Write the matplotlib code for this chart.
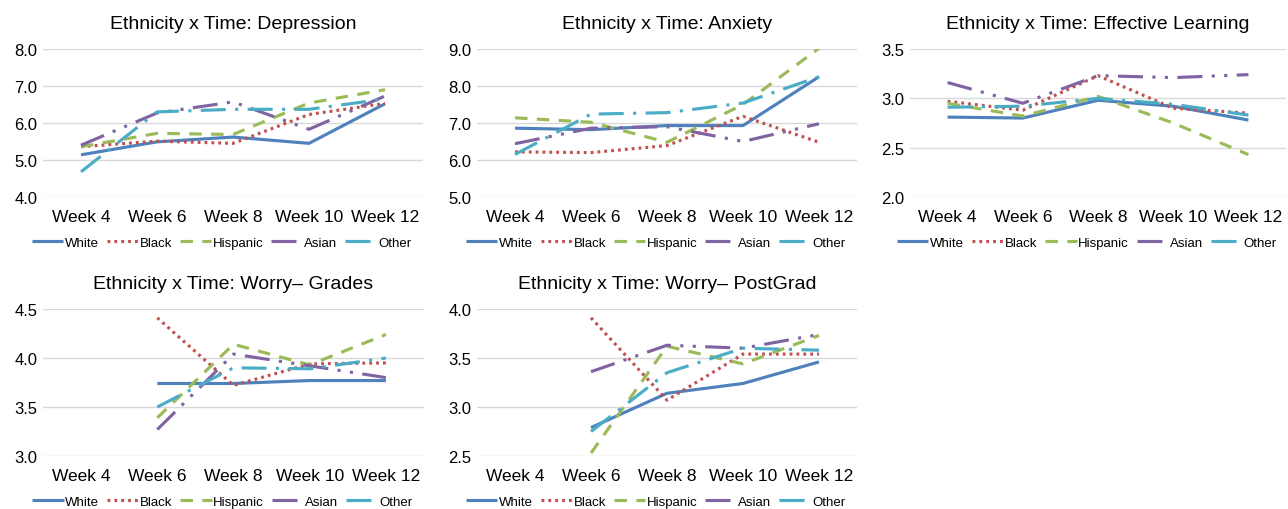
import matplotlib
matplotlib.use("Agg")
import matplotlib.pyplot as plt
import numpy as np

nan = np.nan

WEEKS = ["Week 4", "Week 6", "Week 8", "Week 10", "Week 12"]
GROUPS = ["White", "Black", "Hispanic", "Asian", "Other"]

# Depression
dep_white = [5.14, 5.49, 5.62, 5.45, 6.52]
dep_black = [5.36, 5.51, 5.45, 6.23, 6.53]
dep_hisp = [5.36, 5.72, 5.69, 6.54, 6.90]
dep_asian = [5.40, 6.27, 6.57, 5.83, 6.73]
dep_other = [4.68, 6.30, 6.37, 6.37, 6.65]

# Anxiety
anx_white = [6.86, 6.82, 6.93, 6.93, 8.25]
anx_black = [6.22, 6.20, 6.39, 7.18, 6.48]
anx_hisp = [7.14, 7.02, 6.48, 7.50, 9.02]
anx_asian = [6.44, 6.86, 6.90, 6.50, 6.98]
anx_other = [6.15, 7.24, 7.28, 7.54, 8.25]

# Effective Learning
eff_white = [2.81, 2.80, 2.98, 2.92, 2.78]
eff_black = [2.97, 2.88, 3.23, 2.90, 2.85]
eff_hisp = [2.95, 2.82, 3.02, 2.75, 2.43]
eff_asian = [3.16, 2.95, 3.23, 3.21, 3.24]
eff_other = [2.91, 2.92, 3.00, 2.94, 2.83]

# Worry - Grades (no Week 4 data)
wg_white = [nan, 3.74, 3.74, 3.77, 3.77]
wg_black = [nan, 4.41, 3.72, 3.94, 3.95]
wg_hisp = [nan, 3.39, 4.14, 3.93, 4.24]
wg_asian = [nan, 3.27, 4.04, 3.92, 3.80]
wg_other = [nan, 3.50, 3.90, 3.89, 4.00]

# Worry - PostGrad (no Week 4 data)
wp_white = [nan, 2.79, 3.14, 3.24, 3.46]
wp_black = [nan, 3.91, 3.07, 3.54, 3.54]
wp_hisp = [nan, 2.53, 3.62, 3.44, 3.73]
wp_asian = [nan, 3.36, 3.63, 3.60, 3.74]
wp_other = [nan, 2.75, 3.35, 3.60, 3.58]

COLORS = ["#4F81BD", "#C0504D", "#9BBB59", "#8064A2", "#4BACC6"]
STYLES = [
    "-",
    (0, (0.9, 1.3)),
    (0, (4, 3)),
    (0, (8, 3, 1, 3, 1, 3)),
    (0, (8, 3, 1, 3)),
]

plt.rcParams["font.family"] = ["Liberation Sans", "DejaVu Sans"]

fig = plt.figure(figsize=(12.88, 5.10), dpi=100)
W, H = 1288.0, 510.0


def add_panel(x0, x1, ytop, ybot, title, series, ylim, yticks):
    ax = fig.add_axes([x0 / W, 1 - ybot / H, (x1 - x0) / W, (ybot - ytop) / H])
    x = np.arange(len(WEEKS))
    for vals, name, c, ls in zip(series, GROUPS, COLORS, STYLES):
        ax.plot(x, vals, color=c, linestyle=ls, lw=2.25, label=name,
                solid_capstyle="butt", dash_capstyle="butt")
    ax.set_xlim(-0.5, len(WEEKS) - 0.5)
    ax.set_ylim(*ylim)
    ax.set_yticks(yticks)
    ax.set_yticklabels([f"{v:.1f}" for v in yticks])
    ax.set_xticks(x)
    ax.set_xticklabels(WEEKS)
    ax.tick_params(axis="x", length=0, pad=9, labelsize=12.5)
    ax.tick_params(axis="y", length=0, pad=4, labelsize=12)
    ax.grid(axis="y", color="#D9D9D9", lw=1)
    ax.set_axisbelow(True)
    for s in ax.spines.values():
        s.set_visible(False)
    ax.set_title(title, fontsize=14, pad=15)
    ax.legend(loc="center", bbox_to_anchor=(0.47, -0.31), ncol=5,
              frameon=False, fontsize=9.5, handlelength=2.4,
              handletextpad=0.1, columnspacing=0.6, borderaxespad=0)
    return ax


add_panel(43, 423, 50, 198, "Ethnicity x Time: Depression",
          [dep_white, dep_black, dep_hisp, dep_asian, dep_other],
          (4.0, 8.0), [4.0, 5.0, 6.0, 7.0, 8.0])
add_panel(477, 857, 50, 198, "Ethnicity x Time: Anxiety",
          [anx_white, anx_black, anx_hisp, anx_asian, anx_other],
          (5.0, 9.0), [5.0, 6.0, 7.0, 8.0, 9.0])
add_panel(910, 1286, 50, 198, "Ethnicity x Time: Effective Learning",
          [eff_white, eff_black, eff_hisp, eff_asian, eff_other],
          (2.0, 3.5), [2.0, 2.5, 3.0, 3.5])
add_panel(43, 424, 310, 457, "Ethnicity x Time: Worry\u2013 Grades",
          [wg_white, wg_black, wg_hisp, wg_asian, wg_other],
          (3.0, 4.5), [3.0, 3.5, 4.0, 4.5])
add_panel(477, 857, 310, 457, "Ethnicity x Time: Worry\u2013 PostGrad",
          [wp_white, wp_black, wp_hisp, wp_asian, wp_other],
          (2.5, 4.0), [2.5, 3.0, 3.5, 4.0])

fig.savefig("out.png", dpi=100)
